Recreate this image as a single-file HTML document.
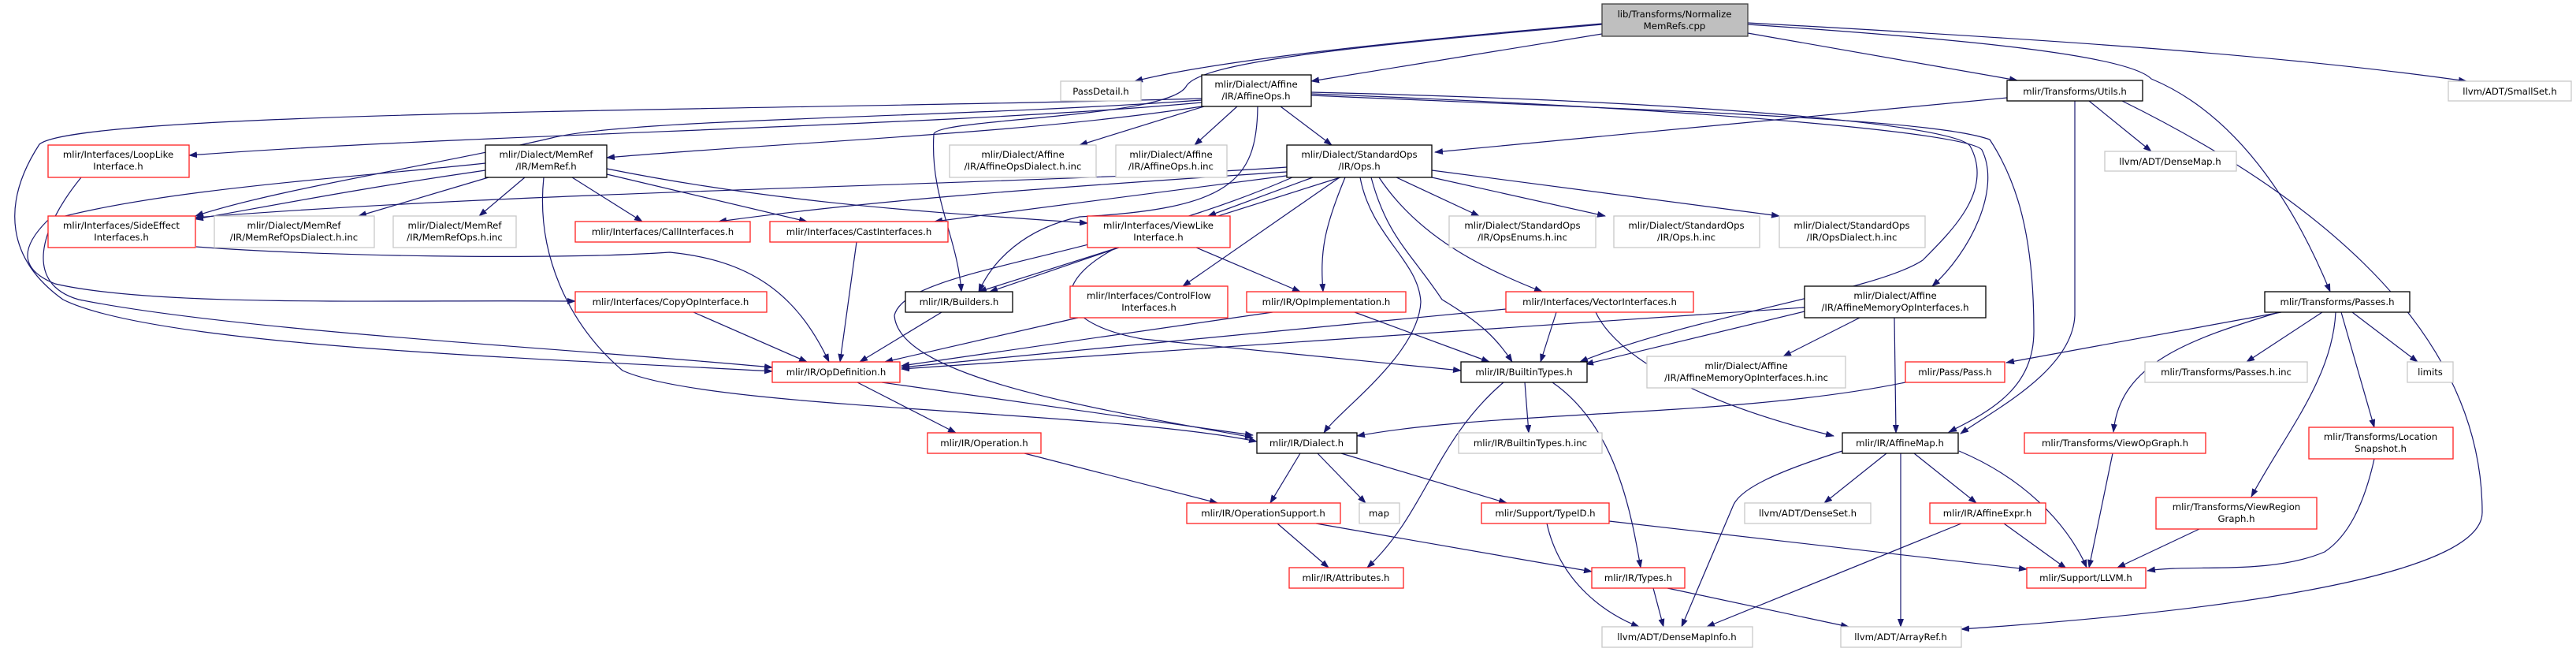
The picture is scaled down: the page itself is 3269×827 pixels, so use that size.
<!DOCTYPE html>
<html><head><meta charset="utf-8"><style>
html,body{margin:0;padding:0;background:#fff;width:3269px;height:827px;overflow:hidden}
text{font-family:"DejaVu Sans","Liberation Sans",sans-serif;font-size:11.7px;fill:#000;text-anchor:middle}
.e{fill:none;stroke:#191970;stroke-width:1.2}
.b{fill:#fff;stroke:#000;stroke-width:1.3}
.r{fill:#fff;stroke:#ff2020;stroke-width:1.3}
.g{fill:#fff;stroke:#c8c8c8;stroke-width:1.3}
</style></head><body>
<svg width="3269" height="827" viewBox="0 0 3269 827" xmlns="http://www.w3.org/2000/svg">
<defs><marker id="a" markerWidth="11" markerHeight="8" refX="10" refY="4" orient="auto" markerUnits="userSpaceOnUse"><path d="M0,0 L11,4 L0,8 Z" fill="#191970"/></marker></defs>
<g class="e" marker-end="url(#a)">
<path d="M2033,30 C1800,50 1550,75 1440,103"/>
<path d="M2033,43 L1664,103"/>
<path d="M2218,42 L2560,102"/>
<path d="M2218,29 C2600,50 2900,70 3130,103"/>
<path d="M2218,31 C2500,50 2700,70 2730,100 C2850,150 2920,280 2957,370"/>
<path d="M2033,31 C1700,60 1520,80 1505,110 C1480,150 1190,150 1185,170 C1180,250 1215,300 1220,370"/>
<path d="M1525,130 C1200,160 600,170 240,197"/>
<path d="M1525,135 C1300,170 1000,180 770,200"/>
<path d="M1525,127 C1200,150 800,150 700,175 C550,210 350,240 248,274"/>
<path d="M1525,125 C1000,140 100,140 50,183 C0,260 10,330 80,380 C200,440 700,455 980,471"/>
<path d="M1528,135 L1370,184"/>
<path d="M1570,135 L1516,184"/>
<path d="M1625,135 L1690,184"/>
<path d="M1596,135 C1595,230 1560,265 1370,275 C1300,290 1260,330 1242,370"/>
<path d="M1664,117 C2200,130 2480,160 2500,185 C2530,240 2480,290 2440,330 C2380,370 2150,400 2005,459"/>
<path d="M1664,119 C2200,140 2500,170 2515,190 C2540,240 2500,320 2452,363"/>
<path d="M1664,121 C2100,140 2450,150 2525,177 C2560,230 2581,300 2581,420 C2581,490 2530,520 2473,548"/>
<path d="M2547,124 L1821,193"/>
<path d="M2651,128 L2730,192"/>
<path d="M2633,128 L2633,400 C2630,470 2530,520 2488,550"/>
<path d="M2693,128 C2900,230 3150,400 3150,650 C3150,720 2900,770 2489,798"/>
<path d="M2895,396 L2546,460"/>
<path d="M2892,396 C2780,430 2690,460 2682,548"/>
<path d="M2947,396 L2851,459"/>
<path d="M2985,396 L3068,459"/>
<path d="M2964,396 C2960,480 2900,550 2857,630"/>
<path d="M2971,396 L3013,542"/>
<path d="M2418,485 C2200,530 1900,520 1722,553"/>
<path d="M2290,390 L1144,468"/>
<path d="M2290,395 L2012,462"/>
<path d="M2360,403 L2263,452"/>
<path d="M2404,403 L2406,549"/>
<path d="M1911,392 L1144,466"/>
<path d="M1975,396 L1955,459"/>
<path d="M2025,396 C2050,450 2150,510 2327,553"/>
<path d="M1420,314 L1256,370"/>
<path d="M1518,314 L1650,370"/>
<path d="M1417,314 C1330,360 1340,410 1450,430 L1854,470"/>
<path d="M1700,225 L1501,363"/>
<path d="M1707,225 C1680,290 1675,320 1679,370"/>
<path d="M1740,225 C1760,300 1790,320 1830,380 C1880,410 1900,430 1919,459"/>
<path d="M1750,225 C1800,300 1880,340 1957,370"/>
<path d="M1772,225 L1877,274"/>
<path d="M1817,225 L2037,274"/>
<path d="M1817,216 L2258,274"/>
<path d="M1633,212 C1300,235 700,240 248,276"/>
<path d="M1633,218 C1300,240 1100,255 912,281"/>
<path d="M1640,222 L1186,281"/>
<path d="M1666,225 L1533,274"/>
<path d="M1701,225 L1242,370"/>
<path d="M1640,225 C1400,330 1150,340 1135,400 C1140,480 1400,520 1590,555"/>
<path d="M1726,225 C1740,300 1800,330 1803,383 C1800,450 1700,520 1680,549"/>
<path d="M616,216 C450,240 350,260 248,278"/>
<path d="M620,225 L455,274"/>
<path d="M666,225 L608,274"/>
<path d="M726,225 L815,281"/>
<path d="M770,221 L1024,281"/>
<path d="M770,214 C1000,260 1200,270 1380,283"/>
<path d="M616,207 C450,225 200,240 60,280 C30,310 20,340 70,360 C200,390 500,380 730,382"/>
<path d="M690,225 C680,320 720,410 790,470 C900,520 1400,520 1595,560"/>
<path d="M103,225 C50,290 30,360 100,380 C300,420 700,440 980,466"/>
<path d="M249,313 C400,325 700,330 850,320 C950,330 1010,370 1052,459"/>
<path d="M880,396 L1024,459"/>
<path d="M1087,307 L1066,459"/>
<path d="M1195,396 L1091,459"/>
<path d="M1368,403 L1123,459"/>
<path d="M1615,396 L1144,464"/>
<path d="M1719,396 L1890,459"/>
<path d="M1088,485 L1213,549"/>
<path d="M1119,485 L1590,552"/>
<path d="M1650,575 L1612,638"/>
<path d="M1672,575 L1733,638"/>
<path d="M1702,575 L1912,638"/>
<path d="M1300,575 L1545,638"/>
<path d="M1621,664 L1686,720"/>
<path d="M1670,664 L2020,725"/>
<path d="M1908,485 C1820,560 1810,650 1735,720"/>
<path d="M1935,485 L1940,549"/>
<path d="M1970,485 C2050,540 2070,650 2082,720"/>
<path d="M1963,664 C1980,740 2040,780 2080,795"/>
<path d="M2042,661 L2572,722"/>
<path d="M2098,746 L2111,795"/>
<path d="M2116,746 L2346,795"/>
<path d="M2338,572 C2250,600 2210,620 2200,640 L2134,795"/>
<path d="M2394,575 L2315,638"/>
<path d="M2412,575 L2412,795"/>
<path d="M2429,575 L2508,638"/>
<path d="M2486,572 C2600,620 2640,700 2648,720"/>
<path d="M2489,664 L2166,795"/>
<path d="M2543,664 L2622,721"/>
<path d="M2681,575 L2651,720"/>
<path d="M2791,671 L2687,720"/>
<path d="M3013,582 C3000,640 2980,680 2950,700 C2880,730 2780,715 2725,724"/>
</g>
<rect x="2033" y="5" width="185" height="41" fill="#bfbfbf" stroke="#404040" stroke-width="1.3"/>
<text x="2125" y="22">lib/Transforms/Normalize</text><text x="2125" y="37">MemRefs.cpp</text>

<rect class="g" x="1346" y="103" width="102" height="25"/><text x="1397" y="120">PassDetail.h</text>
<rect class="b" x="1525" y="95" width="139" height="40"/><text x="1594" y="111">mlir/Dialect/Affine</text><text x="1594" y="126">/IR/AffineOps.h</text>
<rect class="b" x="2547" y="102" width="172" height="26"/><text x="2633" y="120">mlir/Transforms/Utils.h</text>
<rect class="g" x="3107" y="103" width="156" height="25"/><text x="3185" y="120">llvm/ADT/SmallSet.h</text>

<rect class="r" x="61" y="184" width="179" height="41"/><text x="150" y="200">mlir/Interfaces/LoopLike</text><text x="150" y="215">Interface.h</text>
<rect class="b" x="616" y="184" width="154" height="41"/><text x="693" y="200">mlir/Dialect/MemRef</text><text x="693" y="215">/IR/MemRef.h</text>
<rect class="g" x="1205" y="184" width="186" height="41"/><text x="1298" y="200">mlir/Dialect/Affine</text><text x="1298" y="215">/IR/AffineOpsDialect.h.inc</text>
<rect class="g" x="1416" y="184" width="141" height="41"/><text x="1486" y="200">mlir/Dialect/Affine</text><text x="1486" y="215">/IR/AffineOps.h.inc</text>
<rect class="b" x="1633" y="184" width="184" height="41"/><text x="1725" y="200">mlir/Dialect/StandardOps</text><text x="1725" y="215">/IR/Ops.h</text>
<rect class="g" x="2671" y="192" width="167" height="25"/><text x="2754" y="209">llvm/ADT/DenseMap.h</text>

<rect class="r" x="61" y="274" width="187" height="40"/><text x="154" y="290">mlir/Interfaces/SideEffect</text><text x="154" y="305">Interfaces.h</text>
<rect class="g" x="272" y="274" width="203" height="40"/><text x="373" y="290">mlir/Dialect/MemRef</text><text x="373" y="305">/IR/MemRefOpsDialect.h.inc</text>
<rect class="g" x="499" y="274" width="156" height="40"/><text x="577" y="290">mlir/Dialect/MemRef</text><text x="577" y="305">/IR/MemRefOps.h.inc</text>
<rect class="r" x="730" y="281" width="222" height="26"/><text x="841" y="298">mlir/Interfaces/CallInterfaces.h</text>
<rect class="r" x="977" y="281" width="226" height="26"/><text x="1090" y="298">mlir/Interfaces/CastInterfaces.h</text>
<rect class="r" x="1380" y="274" width="181" height="40"/><text x="1470" y="290">mlir/Interfaces/ViewLike</text><text x="1470" y="305">Interface.h</text>
<rect class="g" x="1839" y="274" width="186" height="40"/><text x="1932" y="290">mlir/Dialect/StandardOps</text><text x="1932" y="305">/IR/OpsEnums.h.inc</text>
<rect class="g" x="2048" y="274" width="185" height="40"/><text x="2140" y="290">mlir/Dialect/StandardOps</text><text x="2140" y="305">/IR/Ops.h.inc</text>
<rect class="g" x="2258" y="274" width="185" height="40"/><text x="2350" y="290">mlir/Dialect/StandardOps</text><text x="2350" y="305">/IR/OpsDialect.h.inc</text>

<rect class="r" x="730" y="370" width="243" height="26"/><text x="851" y="387">mlir/Interfaces/CopyOpInterface.h</text>
<rect class="b" x="1149" y="370" width="136" height="26"/><text x="1217" y="387">mlir/IR/Builders.h</text>
<rect class="r" x="1358" y="363" width="200" height="40"/><text x="1458" y="379">mlir/Interfaces/ControlFlow</text><text x="1458" y="394">Interfaces.h</text>
<rect class="r" x="1582" y="370" width="202" height="26"/><text x="1683" y="387">mlir/IR/OpImplementation.h</text>
<rect class="r" x="1911" y="370" width="238" height="26"/><text x="2030" y="387">mlir/Interfaces/VectorInterfaces.h</text>
<rect class="b" x="2290" y="363" width="230" height="40"/><text x="2405" y="379">mlir/Dialect/Affine</text><text x="2405" y="394">/IR/AffineMemoryOpInterfaces.h</text>
<rect class="b" x="2874" y="370" width="184" height="26"/><text x="2966" y="387">mlir/Transforms/Passes.h</text>

<rect class="r" x="980" y="459" width="162" height="26"/><text x="1061" y="476">mlir/IR/OpDefinition.h</text>
<rect class="b" x="1854" y="459" width="160" height="26"/><text x="1934" y="476">mlir/IR/BuiltinTypes.h</text>
<rect class="g" x="2090" y="452" width="252" height="40"/><text x="2216" y="468">mlir/Dialect/Affine</text><text x="2216" y="483">/IR/AffineMemoryOpInterfaces.h.inc</text>
<rect class="r" x="2418" y="459" width="126" height="26"/><text x="2481" y="476">mlir/Pass/Pass.h</text>
<rect class="g" x="2722" y="459" width="206" height="26"/><text x="2825" y="476">mlir/Transforms/Passes.h.inc</text>
<rect class="g" x="3055" y="459" width="58" height="26"/><text x="3084" y="476">limits</text>

<rect class="r" x="1177" y="549" width="144" height="26"/><text x="1249" y="566">mlir/IR/Operation.h</text>
<rect class="b" x="1595" y="549" width="127" height="26"/><text x="1658" y="566">mlir/IR/Dialect.h</text>
<rect class="g" x="1851" y="549" width="182" height="26"/><text x="1942" y="566">mlir/IR/BuiltinTypes.h.inc</text>
<rect class="b" x="2338" y="549" width="147" height="26"/><text x="2411" y="566">mlir/IR/AffineMap.h</text>
<rect class="r" x="2569" y="549" width="230" height="26"/><text x="2684" y="566">mlir/Transforms/ViewOpGraph.h</text>
<rect class="r" x="2930" y="542" width="183" height="40"/><text x="3021" y="558">mlir/Transforms/Location</text><text x="3021" y="573">Snapshot.h</text>

<rect class="r" x="1506" y="638" width="195" height="26"/><text x="1603" y="655">mlir/IR/OperationSupport.h</text>
<rect class="g" x="1725" y="638" width="51" height="26"/><text x="1750" y="655">map</text>
<rect class="r" x="1880" y="638" width="162" height="26"/><text x="1961" y="655">mlir/Support/TypeID.h</text>
<rect class="g" x="2214" y="638" width="160" height="26"/><text x="2294" y="655">llvm/ADT/DenseSet.h</text>
<rect class="r" x="2449" y="638" width="147" height="26"/><text x="2522" y="655">mlir/IR/AffineExpr.h</text>
<rect class="r" x="2736" y="631" width="204" height="40"/><text x="2838" y="647">mlir/Transforms/ViewRegion</text><text x="2838" y="662">Graph.h</text>

<rect class="r" x="1636" y="720" width="145" height="26"/><text x="1708" y="737">mlir/IR/Attributes.h</text>
<rect class="r" x="2020" y="720" width="118" height="26"/><text x="2079" y="737">mlir/IR/Types.h</text>
<rect class="r" x="2572" y="720" width="151" height="26"/><text x="2647" y="737">mlir/Support/LLVM.h</text>

<rect class="g" x="2033" y="795" width="191" height="26"/><text x="2128" y="812">llvm/ADT/DenseMapInfo.h</text>
<rect class="g" x="2336" y="795" width="153" height="26"/><text x="2412" y="812">llvm/ADT/ArrayRef.h</text>
</svg>
</body></html>
